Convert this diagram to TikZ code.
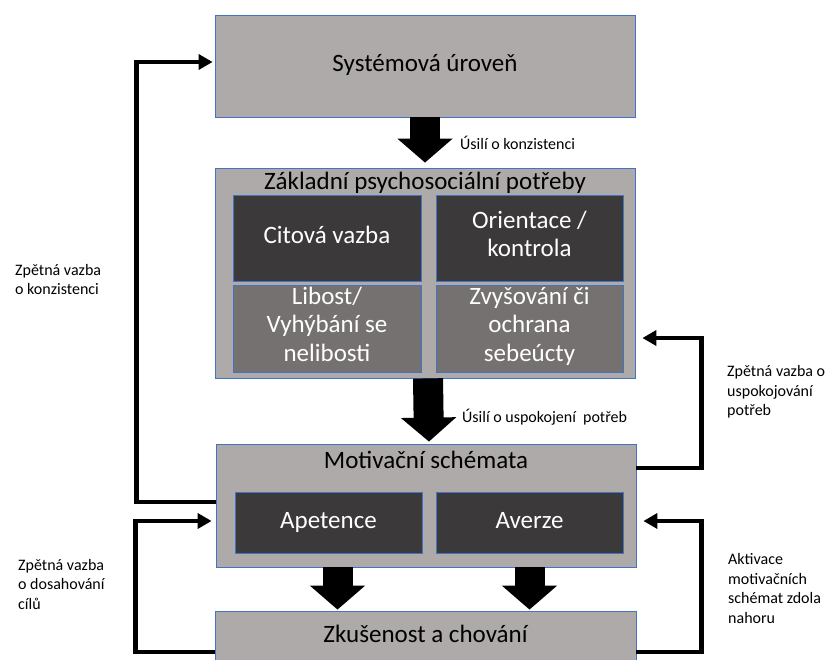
\documentclass[tikz,border=0pt]{standalone}
\usepackage{fontspec}
\setmainfont{Carlito}
\usetikzlibrary{arrows.meta}
\definecolor{boxgray}{HTML}{AEAAAA}
\definecolor{darkbox}{HTML}{3B3939}
\definecolor{midbox}{HTML}{757171}
\definecolor{edgeblue}{HTML}{4472C4}
\tikzstyle{bx}=[draw=edgeblue,line width=.8pt,fill=boxgray,inner sep=0pt,align=center,font=\fontsize{25}{28.5}\selectfont,execute at begin node=\strut,execute at end node=\strut]
\tikzstyle{dk}=[bx,fill=darkbox,text=white]
\tikzstyle{md}=[bx,fill=midbox,text=white]
\tikzstyle{big}=[line width=30pt,-{Triangle[width=54pt,length=24pt]}]
\tikzstyle{fb}=[line width=4.5pt,-{Triangle[width=15pt,length=14pt]}]
\tikzstyle{lbl}=[inner sep=0pt,anchor=west,align=left,font=\fontsize{16}{19.5}\selectfont]

\begin{document}
\begin{tikzpicture}[x=1pt,y=-1pt]
\useasboundingbox (0,0) rectangle (830,659);
% boxes
\node[bx,minimum width=420,minimum height=102] (sys) at (425,66) {Systémová úroveň};
\node[bx,minimum width=420,minimum height=210] (zakl) at (425,273) {};
\node[inner sep=0pt,font=\fontsize{25}{29}\selectfont] (zakltitle) at (425,183) {Základní psychosociální potřeby};
\node[dk,minimum width=188,minimum height=86] (cit) at (327,238) {Citová vazba};
\node[dk,minimum width=187,minimum height=86] (ori) at (529.5,238) {Orientace /\\kontrola};
\node[md,minimum width=188,minimum height=87] (lib) at (327,328.5) {Libost/\\Vyhýbání se\\nelibosti};
\node[md,minimum width=187,minimum height=87] (zvy) at (529.5,328.5) {Zvyšování či\\ochrana\\sebeúcty};
\node[bx,minimum width=420,minimum height=123] (mot) at (426,505.5) {};
\node[inner sep=0pt,font=\fontsize{25}{29}\selectfont] (mottitle) at (426,460) {Motivační schémata};
\node[dk,minimum width=187,minimum height=61] (ape) at (328.5,522.5) {Apetence};
\node[dk,minimum width=187,minimum height=61] (ave) at (529.5,522.5) {Averze};
\node[bx,minimum width=421,minimum height=52] (zku) at (425.5,637) {Zkušenost a chování};
% big arrows
\coordinate (apx) at ([xshift=9pt]ape.south);
\draw[big,shorten >=5pt] (sys.south) -- (zakl.north);
\draw[big,shorten >=2pt] ([xshift=3pt]zakl.south) -- ([xshift=3pt]mot.north);
\draw[big,shorten >=1pt] (apx |- mot.south) -- (apx |- zku.north);
\draw[big,shorten >=1pt] (ave |- mot.south) -- (ave |- zku.north);
\node[lbl] (kons) at (460,143) {Úsilí o konzistenci};
\node[lbl] (usp) at (462,417) {Úsilí o uspokojení\ \ potřeb};
% feedback loops
\draw[fb,shorten >=2pt] ([yshift=3.5pt]mot.west) -- ++(-79,0) |- ([yshift=4pt]sys.west);
\draw[fb,shorten >=4pt] ([yshift=-15pt]zku.west) -- ++(-79,0) |- ([yshift=-15.5pt]mot.west);
\draw[fb,shorten >=7pt] ([yshift=37.5pt]mot.east) -- ++(65,0) |- ([yshift=-65pt]zakl.east);
\draw[fb,shorten >=7pt] ([yshift=-15pt]zku.east) -- ++(65,0) |- ([yshift=-15.5pt]mot.east);
\node[lbl] (fbkons) at (15,279.5) {Zpětná vazba\\o konzistenci};
\node[lbl] (fbusp) at (727,392) {Zpětná vazba o\\uspokojování\\potřeb};
\node[lbl] (fbcil) at (18,584) {Zpětná vazba\\o dosahování\\cílů};
\node[lbl] (akt) at (728,588.5) {Aktivace\\motivačních\\schémat zdola\\nahoru};
\end{tikzpicture}
\end{document}
